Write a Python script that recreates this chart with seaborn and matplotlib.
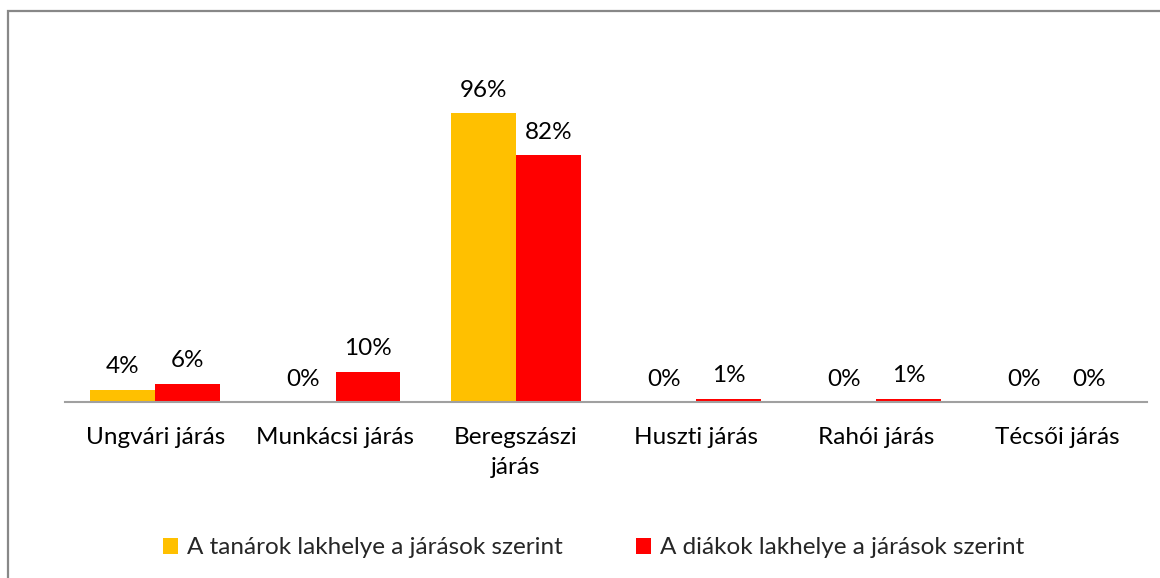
import pandas as pd
import matplotlib
matplotlib.use("Agg")
import matplotlib.pyplot as plt
import seaborn as sns

jarasok = ["Ungvári járás", "Munkácsi járás", "Beregszászi\njárás",
           "Huszti járás", "Rahói járás", "Técsői járás"]
tanarok = [4, 0, 96, 0, 0, 0]
diakok = [6, 10, 82, 1, 1, 0]
sorozatok = ["A tanárok lakhelye a járások szerint",
             "A diákok lakhelye a járások szerint"]

df = pd.DataFrame({
    "jaras": jarasok * 2,
    "ertek": [v / 100 for v in tanarok + diakok],
    "sorozat": [sorozatok[0]] * len(jarasok) + [sorozatok[1]] * len(jarasok),
})

sns.set_style("white")
plt.rcParams["font.family"] = ["Lato", "DejaVu Sans"]
fs = 17.5

fig = plt.figure(figsize=(11.6, 5.78), dpi=100)
ax = fig.add_axes([65 / 1160, 176 / 578, 1082 / 1160, 301 / 578])

sns.barplot(data=df, x="jaras", y="ertek", hue="sorozat", order=jarasok,
            palette=["#FFC000", "#FF0000"], saturation=1, width=0.72,
            linewidth=0, ax=ax, legend=True)

ax.set_ylim(0, 1.0)
ax.set_xlim(-0.5, len(jarasok) - 0.5)
ax.set_xlabel("")
ax.set_ylabel("")
ax.set_yticks([])
ax.tick_params(axis="x", length=0, pad=18, labelsize=fs, colors="#000000")
for lbl in ax.get_xticklabels():
    lbl.set_linespacing(1.5)
for s in ["top", "left", "right"]:
    ax.spines[s].set_visible(False)
ax.spines["bottom"].set_color("#A0A0A0")
ax.spines["bottom"].set_linewidth(1.5)

for cont in ax.containers:
    vals = [b.get_height() for b in cont]
    ax.bar_label(cont, labels=[f"{v * 100:.0f}%" for v in vals],
                 padding=9, fontsize=fs, color="#000000", clip_on=False)

handles, labels = ax.get_legend_handles_labels()
ax.get_legend().remove()
fig.legend(handles, labels, loc="center", bbox_to_anchor=(0.512, 0.052),
           ncol=2, frameon=False, fontsize=fs, handlelength=0.6,
           handleheight=0.6, handletextpad=0.4, columnspacing=3.0)

fig.add_artist(plt.Rectangle((8 / 1160, -0.1), 1.2, 1.1 - 11 / 578,
                             transform=fig.transFigure, fill=False,
                             edgecolor="#888888", linewidth=1.6))

fig.savefig("out.png", dpi=100)
